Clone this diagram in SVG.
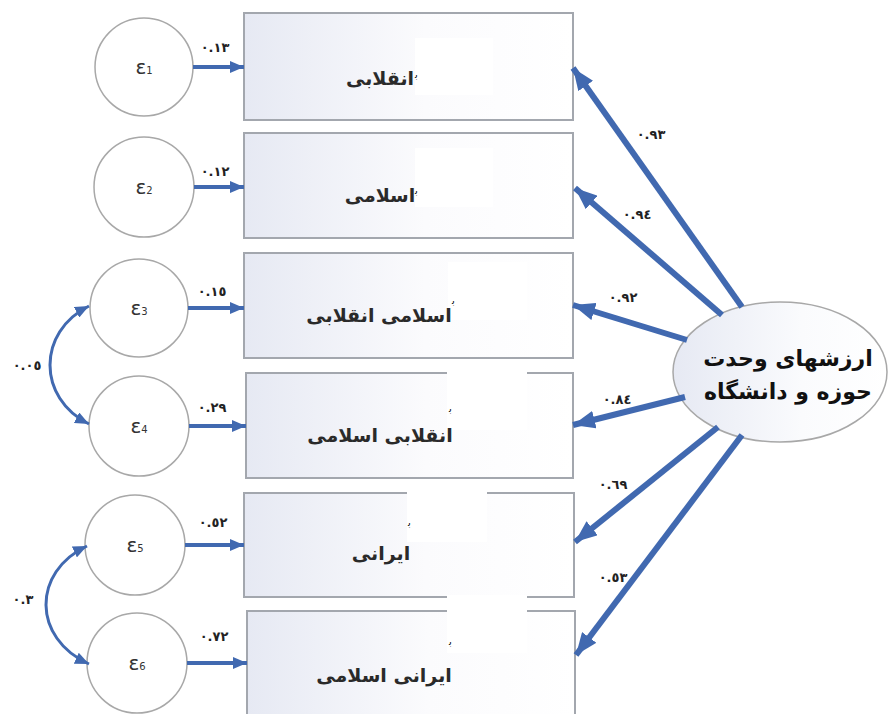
<svg xmlns="http://www.w3.org/2000/svg" width="890" height="714" viewBox="0 0 890 714">
<defs>
<linearGradient id="gBox" x1="0" y1="0" x2="1" y2="0">
<stop offset="0" stop-color="#e6e9f3"/>
<stop offset="0.55" stop-color="#fbfbfd"/>
<stop offset="1" stop-color="#ffffff"/>
</linearGradient>
<linearGradient id="gEll" x1="0" y1="0" x2="1" y2="0">
<stop offset="0" stop-color="#e6e9f3"/>
<stop offset="0.6" stop-color="#fafbfd"/>
<stop offset="1" stop-color="#ffffff"/>
</linearGradient>
<marker id="aS" markerUnits="userSpaceOnUse" markerWidth="14" markerHeight="12" viewBox="0 0 14 12" refX="14" refY="6" orient="auto-start-reverse">
<path d="M0,0 L14,6 L0,12 z" fill="#4169b0"/>
</marker>
<marker id="aL" markerUnits="userSpaceOnUse" markerWidth="22" markerHeight="18" viewBox="0 0 22 18" refX="22" refY="9" orient="auto">
<path d="M0,0 L22,9 L0,18 z" fill="#4169b0"/>
</marker>
</defs>
<style>
.box{fill:url(#gBox);stroke:#a3a7ae;stroke-width:2}
.err{fill:#ffffff;stroke:#a8a8a8;stroke-width:1.5}
.lat{fill:url(#gEll);stroke:#a8a8a8;stroke-width:1.5}
.patch{fill:#ffffff}
.lbl{font-family:"DejaVu Sans",sans-serif;font-size:19px;font-weight:bold;fill:#2a2a2a;text-anchor:middle}
.frag{font-family:"DejaVu Sans",sans-serif;font-size:10px;fill:#000}
.eps{font-family:"DejaVu Sans",sans-serif;font-size:20px;fill:#333;text-anchor:middle}
.sub{font-size:10px}
.num{font-family:"DejaVu Sans",sans-serif;font-size:13px;font-weight:bold;fill:#222;text-anchor:middle}
.big{font-family:"DejaVu Sans",sans-serif;font-size:22px;font-weight:bold;fill:#111;text-anchor:middle}
.c{fill:none;stroke:#4169b0;stroke-width:4}
.cw{fill:none;stroke:#4169b0;stroke-width:6}
.cv{fill:none;stroke:#4169b0;stroke-width:3}
</style>

<g id="box1"><rect class="box" x="244" y="13" width="329" height="107"/><rect class="patch" x="415" y="38" width="78" height="57"/><text class="lbl" x="380" y="85">انقلابی</text><text class="frag" x="415" y="78">ﺑ</text></g>
<g id="box2"><rect class="box" x="244" y="133" width="329" height="105"/><rect class="patch" x="415" y="148" width="78" height="59"/><text class="lbl" x="380" y="202">اسلامی</text><text class="frag" x="415" y="194">ﺑ</text></g>
<g id="box3"><rect class="box" x="244" y="253" width="329" height="105"/><rect class="patch" x="448" y="262" width="79" height="58"/><text class="lbl" x="379" y="322">اسلامی انقلابی</text><text class="frag" x="452" y="304">ﺑ</text></g>
<g id="box4"><rect class="box" x="246" y="373" width="327" height="105"/><rect class="patch" x="447" y="370" width="80" height="60"/><text class="lbl" x="380" y="442">انقلابی اسلامی</text><text class="frag" x="449" y="412">ﺑ</text></g>
<g id="box5"><rect class="box" x="244" y="493" width="330" height="104"/><rect class="patch" x="407" y="488" width="80" height="54"/><text class="lbl" x="381" y="560">ایرانی</text><text class="frag" x="408" y="526">ﺑ</text></g>
<g id="box6"><rect class="box" x="247" y="611" width="328" height="104"/><rect class="patch" x="447" y="595" width="80" height="58"/><text class="lbl" x="384" y="682">ایرانی اسلامی</text><text class="frag" x="449" y="645">ﺑ</text></g>

<g id="e1"><circle class="err" cx="144" cy="67" r="49"/><text class="eps" x="144" y="74">ε<tspan class="sub">1</tspan></text></g>
<g id="e2"><circle class="err" cx="144" cy="187" r="50"/><text class="eps" x="144" y="194">ε<tspan class="sub">2</tspan></text></g>
<g id="e3"><circle class="err" cx="139" cy="308" r="49"/><text class="eps" x="139" y="315">ε<tspan class="sub">3</tspan></text></g>
<g id="e4"><circle class="err" cx="139" cy="426" r="50"/><text class="eps" x="139" y="433">ε<tspan class="sub">4</tspan></text></g>
<g id="e5"><circle class="err" cx="135" cy="545" r="50"/><text class="eps" x="135" y="552">ε<tspan class="sub">5</tspan></text></g>
<g id="e6"><circle class="err" cx="137" cy="663" r="50"/><text class="eps" x="137" y="670">ε<tspan class="sub">6</tspan></text></g>

<g id="latent"><ellipse class="lat" cx="780" cy="372" rx="107" ry="70"/><text class="big" x="788" y="366">ارزشهای وحدت</text><text class="big" x="788" y="399">حوزه و دانشگاه</text></g>

<g id="connectors">
<path class="c" d="M193 67 H244" marker-end="url(#aS)"/>
<path class="c" d="M194 187 H244" marker-end="url(#aS)"/>
<path class="c" d="M188 308 H244" marker-end="url(#aS)"/>
<path class="c" d="M189 426 H246" marker-end="url(#aS)"/>
<path class="c" d="M185 545 H244" marker-end="url(#aS)"/>
<path class="c" d="M187 663 H247" marker-end="url(#aS)"/>
<path class="cv" d="M89 306 C37 332 37 398 89 424" marker-start="url(#aS)" marker-end="url(#aS)"/>
<path class="cv" d="M87 546 C32 572 32 638 89 664" marker-start="url(#aS)" marker-end="url(#aS)"/>
<path class="cw" d="M742 307 L573 68" marker-end="url(#aL)"/>
<path class="cw" d="M722 315 L575 188" marker-end="url(#aL)"/>
<path class="cw" d="M687 340 L573 305" marker-end="url(#aL)"/>
<path class="cw" d="M685 397 L573 425" marker-end="url(#aL)"/>
<path class="cw" d="M718 427 L575 542" marker-end="url(#aL)"/>
<path class="cw" d="M742 435 L576 655" marker-end="url(#aL)"/>
<text class="num" x="215" y="52">٠.١٣</text>
<text class="num" x="215" y="176">٠.١٢</text>
<text class="num" x="212" y="296">٠.١٥</text>
<text class="num" x="212" y="412">٠.٢٩</text>
<text class="num" x="213" y="527">٠.٥٢</text>
<text class="num" x="214" y="641">٠.٧٢</text>
<text class="num" x="27" y="370">٠.٠٥</text>
<text class="num" x="23" y="604">٠.٣</text>
<text class="num" x="651" y="139">٠.٩٣</text>
<text class="num" x="637" y="219">٠.٩٤</text>
<text class="num" x="623" y="302">٠.٩٢</text>
<text class="num" x="617" y="404">٠.٨٤</text>
<text class="num" x="613" y="489">٠.٦٩</text>
<text class="num" x="613" y="582">٠.٥٣</text>
</g>
</svg>
